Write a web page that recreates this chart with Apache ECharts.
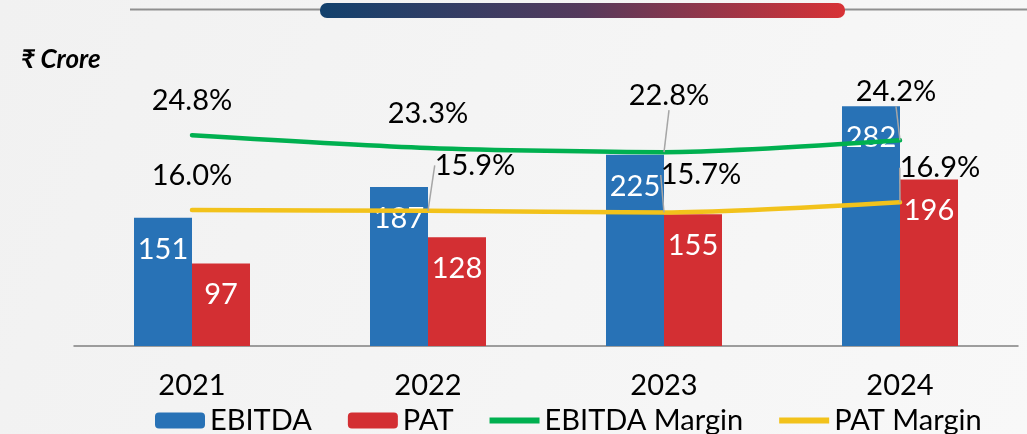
<!DOCTYPE html>
<html>
<head>
<meta charset="utf-8">
<script src="https://cdn.jsdelivr.net/npm/echarts@6/dist/echarts.min.js"></script>
<style>
  html, body { margin: 0; padding: 0; }
  #chart { width: 1027px; height: 434px; }
</style>
</head>
<body>
<div id="chart"></div>
<script>
// data
var years = ['2021', '2022', '2023', '2024'];
var ebitda = [151, 187, 225, 282];
var pat = [97, 128, 155, 196];
var ebitdaMargin = [24.8, 23.3, 22.8, 24.2];
var patMargin = [16.0, 15.9, 15.7, 16.9];

// label nudges for the margin labels (dx, dy)
var ebitdaMarginShift = [[0, 0], [0, 0], [5, -22], [-4, -14]];
var patMarginShift = [[0, 0], [47, -11], [37, -3], [40, 0]];

var font = 'Lato, "Noto Sans", sans-serif';
// thin line icon for the margin legend entries
var lineIcon = 'path://M0,0 M50,16 M0,5 L50,5 L50,11 L0,11 Z';

var chart = echarts.init(document.getElementById('chart'));

function marginLabel() {
    return {
        show: true,
        position: 'top',
        distance: 20,
        color: '#000',
        fontFamily: font,
        fontSize: 29,
        formatter: function (p) { return p.value.toFixed(1) + '%'; }
    };
}

// leader line only where the label was moved
function marginData(values, shifts) {
    return values.map(function (v, i) {
        var moved = shifts[i][0] !== 0 || shifts[i][1] !== 0;
        return {value: v, labelLine: {show: moved}};
    });
}

var option = {
    backgroundColor: {
        type: 'linear', x: 0, y: 0, x2: 1, y2: 1,
        colorStops: [{offset: 0, color: '#f1f1f1'}, {offset: 1, color: '#f8f8f8'}]
    },
    textStyle: {fontFamily: font},
    graphic: [
        {type: 'line', shape: {x1: 130, y1: 9.5, x2: 1027, y2: 9.5},
         style: {stroke: '#8f8f8f', lineWidth: 2}},
        {type: 'rect', shape: {x: 320, y: 3, width: 525, height: 15, r: 7},
         style: {fill: {type: 'linear', x: 0, y: 0, x2: 1, y2: 0,
             colorStops: [{offset: 0, color: '#12416d'}, {offset: 0.5, color: '#553a5c'}, {offset: 1, color: '#d83236'}]}}},
        {type: 'text', left: 21, top: 47,
         style: {text: '₹ Crore', font: 'italic bold 26px Lato, "Noto Sans", sans-serif', fill: '#000'}}
    ],
    grid: {left: 74, right: 9, top: 40, bottom: 88},
    legend: {
        top: 401,
        left: 150,
        itemWidth: 50,
        itemHeight: 16,
        itemGap: 36,
        textStyle: {fontSize: 29, color: '#000', fontFamily: font},
        data: [
            {name: 'EBITDA'},
            {name: 'PAT'},
            {name: 'EBITDA Margin', icon: lineIcon},
            {name: 'PAT Margin', icon: lineIcon}
        ]
    },
    xAxis: {
        type: 'category',
        data: years,
        axisLine: {lineStyle: {color: '#808080', width: 1.5}},
        axisTick: {length: 10, lineStyle: {color: '#808080', width: 1.5}},
        axisLabel: {color: '#000', fontSize: 29, margin: 25, fontFamily: font}
    },
    yAxis: [
        {type: 'value', min: 0, max: 360, show: false, splitLine: {show: false}},
        {type: 'value', min: 0, max: 36, show: false, splitLine: {show: false}}
    ],
    series: [
        {
            name: 'EBITDA', type: 'bar', data: ebitda,
            barWidth: 58, barGap: '0%',
            itemStyle: {color: '#2872b6'},
            label: {show: true, position: 'insideTop', distance: 17, color: '#fff', fontSize: 29, fontFamily: font}
        },
        {
            name: 'PAT', type: 'bar', data: pat,
            barWidth: 58,
            itemStyle: {color: '#d32f33'},
            label: {show: true, position: 'insideTop', distance: 17, color: '#fff', fontSize: 29, fontFamily: font}
        },
        {
            name: 'EBITDA Margin', type: 'line', yAxisIndex: 1,
            data: marginData(ebitdaMargin, ebitdaMarginShift),
            smooth: 0.25, symbol: 'circle', symbolSize: 0.1, showSymbol: true,
            lineStyle: {color: '#00b050', width: 4.5, cap: 'round'},
            itemStyle: {color: '#00b050'},
            label: marginLabel(),
            labelLine: {show: true, lineStyle: {color: '#a6a6a6', width: 1.5}},
            labelLayout: function (p) {
                var s = ebitdaMarginShift[p.dataIndex];
                return {dx: s[0], dy: s[1]};
            }
        },
        {
            name: 'PAT Margin', type: 'line', yAxisIndex: 1,
            data: marginData(patMargin, patMarginShift),
            smooth: 0.25, symbol: 'circle', symbolSize: 0.1, showSymbol: true,
            lineStyle: {color: '#f2c21b', width: 4.5, cap: 'round'},
            itemStyle: {color: '#f2c21b'},
            label: marginLabel(),
            labelLine: {show: true, lineStyle: {color: '#a6a6a6', width: 1.5}},
            labelLayout: function (p) {
                var s = patMarginShift[p.dataIndex];
                return {dx: s[0], dy: s[1]};
            }
        }
    ]
};
chart.setOption(option);
</script>
</body>
</html>
